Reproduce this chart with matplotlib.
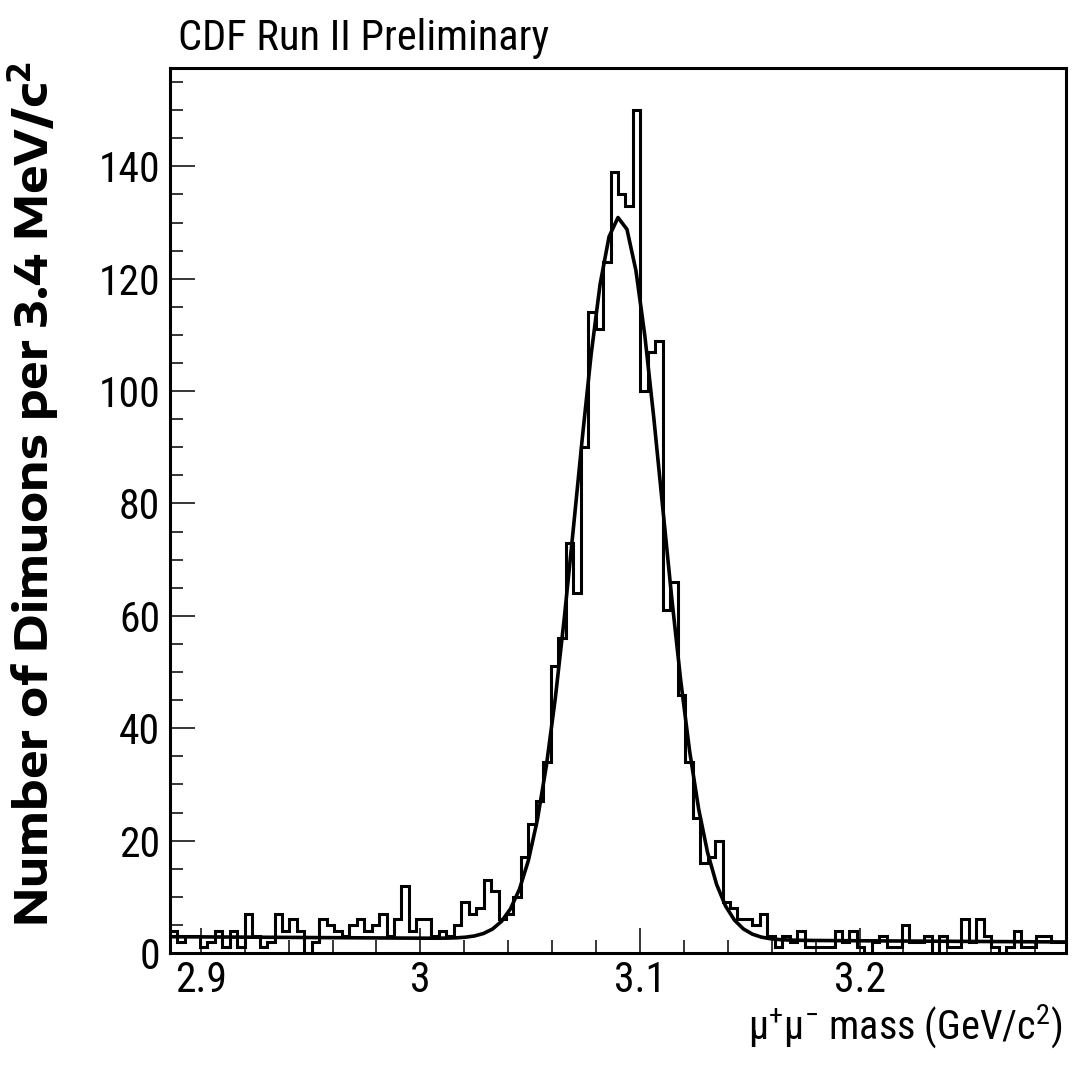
import numpy as np
import matplotlib
matplotlib.use("Agg")
import matplotlib.pyplot as plt
from matplotlib import font_manager
from matplotlib.ticker import MultipleLocator, FixedLocator, FixedFormatter

# ---------------- data ----------------
x_low = 2.886          # lower edge of histogram (GeV/c^2)
bin_width = 0.0034     # 3.4 MeV/c^2
counts = [
    4, 2, 3, 3, 1, 2, 4, 1, 4, 1,
    7, 3, 1, 2, 7, 4, 6, 4, 0, 2,
    6, 5, 4, 3, 5, 6, 4, 5, 7, 3,
    6, 12, 4, 6, 6, 3, 4, 3, 5, 9,
    7, 8, 13, 11, 6, 7, 10, 17, 23, 27,
    34, 51, 56, 73, 64, 90, 114, 111, 123, 139,
    135, 133, 150, 100, 107, 109, 61, 66, 46, 34,
    24, 16, 17, 20, 9, 8, 6, 6, 5, 7,
    3, 1, 3, 2, 4, 1, 1, 1, 1, 4,
    2, 4, 1, 0, 2, 3, 1, 1, 5, 2,
    2, 3, 0, 3, 1, 1, 6, 2, 6, 3,
    1, 0, 1, 4, 1, 1, 3, 3, 2, 2,
]
# Gaussian + linear background fit parameters
fit_amp = 128.5
fit_mean = 3.0905
fit_sigma = 0.0196
bkg_at_low = 2.9
bkg_slope = -2.3       # per GeV/c^2
fit_npx = 100

x_major_ticks = [2.9, 3.0, 3.1, 3.2]
x_major_labels = ["2.9", "3", "3.1", "3.2"]
y_major_ticks = [0, 20, 40, 60, 80, 100, 120, 140]
y_max = 157.5

title_text = "CDF Run II Preliminary"
xlabel_text = r"$\mathregular{\mu^{+}\mu^{-}}$ mass (GeV/c$\mathregular{^{2}}$)"
ylabel_text = r"Number of Dimuons per 3.4 MeV/c$\mathregular{^{2}}$"

# ---------------- fonts ----------------
names = {f.name for f in font_manager.fontManager.ttflist}
def pick(cands):
    for c in cands:
        if c in names:
            return c
    return "DejaVu Sans"

narrow = pick(["Roboto Condensed", "Archivo Narrow", "PT Sans Narrow", "Liberation Sans"])
wide = pick(["Encode Sans Expanded", "DejaVu Sans"])
plt.rcParams["font.family"] = [narrow, "DejaVu Sans"]
plt.rcParams["mathtext.fontset"] = "custom"
plt.rcParams["mathtext.rm"] = narrow

# ---------------- figure ----------------
W, H = 1072, 1081
fig = plt.figure(figsize=(W / 100, H / 100), dpi=100)
ax = fig.add_axes([170 / W, 1 - 953 / H, (1066 - 170) / W, (953 - 68) / H])

n = len(counts)
edges = x_low + bin_width * np.arange(n + 1)
x_high = edges[-1]
ax.stairs(counts, edges, color="black", lw=2.2, baseline=None)

xf = np.linspace(x_low, x_high, fit_npx + 1)
yf = fit_amp * np.exp(-0.5 * ((xf - fit_mean) / fit_sigma) ** 2) + bkg_at_low + bkg_slope * (xf - x_low)
ax.plot(xf, yf, color="black", lw=2.6)

ax.set_xlim(x_low, x_high)
ax.set_ylim(0, y_max)

for s in ax.spines.values():
    s.set_linewidth(2.2)

ax.xaxis.set_major_locator(FixedLocator(x_major_ticks))
ax.xaxis.set_major_formatter(FixedFormatter(x_major_labels))
ax.xaxis.set_minor_locator(MultipleLocator(0.02))
ax.yaxis.set_major_locator(FixedLocator(y_major_ticks))
ax.yaxis.set_minor_locator(MultipleLocator(5))
ax.tick_params(which="both", direction="in", top=False, right=False, width=1.1, color="black")
ax.tick_params(which="major", length=18)
ax.tick_params(which="minor", length=9.5)
ax.tick_params(axis="y", which="major", labelsize=30, pad=7)
ax.tick_params(axis="x", which="major", labelsize=30, pad=5)

fig.text(178 / W, 1 - 50 / H, title_text, fontsize=30.5, ha="left", va="baseline")
fig.text(1063 / W, 1 - 1040 / H, xlabel_text, fontsize=29, ha="right", va="baseline")
yl = fig.text(49 / W, 1 - 62 / H, ylabel_text, fontsize=26, fontweight="bold",
              family=[wide, "DejaVu Sans"], rotation=90, rotation_mode="anchor",
              ha="right", va="baseline")

# scale the y title so that it spans the same length as in the reference
fig.canvas.draw()
bb = yl.get_window_extent(renderer=fig.canvas.get_renderer())
yl.set_fontsize(26 * 866 / bb.height)

fig.savefig("out.png", dpi=100)
